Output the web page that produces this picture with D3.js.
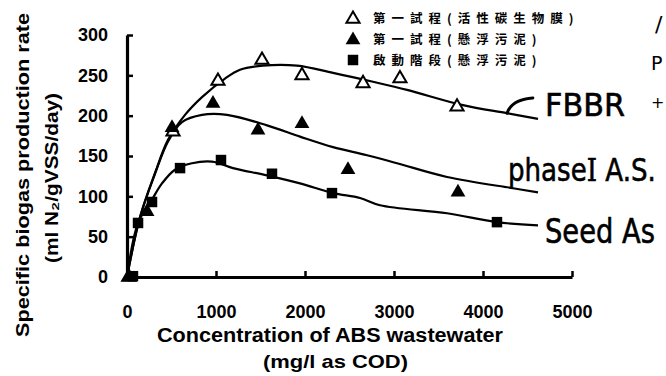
<!DOCTYPE html>
<html><head><meta charset="utf-8">
<script src="https://cdn.jsdelivr.net/npm/d3@7"></script>
<style>
body{margin:0;background:#fff;}
svg{display:block;}
</style></head>
<body>
<svg id="c" width="666" height="376"></svg>
<script>
// ---- data ----
const xTicks = [0, 1000, 2000, 3000, 4000, 5000];
const yTicks = [0, 50, 100, 150, 200, 250, 300];
const legendLabels = ["第一試程(活性碳生物膜)", "第一試程(懸浮污泥)", "啟動階段(懸浮污泥)"];
const seriesNames = ["FBBR", "phaseI A.S.", "Seed As"];

// measured points
const fbbrX = [20, 517, 1022, 1517, 1966, 2652, 3067, 3708];
const fbbrY = [0, 180, 243, 269, 250, 240, 246, 211];
const phase1X = [20, 225, 506, 966, 1472, 1966, 2483, 3719];
const phase1Y = [0, 81, 185, 215, 182, 190, 133, 105];
const seedX = [67, 124, 281, 596, 1056, 1629, 2303, 4157];
const seedY = [1, 67, 93, 135, 145, 128, 104, 68];

// fitted curves
const fbbrCurveX = [0, 146, 315, 461, 652, 843, 1101, 1270, 1528, 1910, 2315, 2764, 3146, 3775, 4270, 4618];
const fbbrCurveY = [0, 74, 129, 170, 201, 223, 246, 257, 262, 262, 253, 242, 232, 213, 203, 196];
const phase1CurveX = [0, 146, 315, 461, 618, 843, 1124, 1573, 1944, 2315, 2697, 3034, 3596, 4337, 4618];
const phase1CurveY = [0, 74, 128, 168, 192, 201, 201, 188, 174, 161, 151, 141, 124, 110, 105];
const seedCurveX = [0, 124, 281, 393, 539, 730, 955, 1191, 1573, 1944, 2315, 2618, 2843, 3596, 4157, 4618];
const seedCurveY = [0, 67, 96, 116, 133, 141, 143, 135, 126, 116, 104, 98, 89, 79, 68, 64];

// ---- drawing ----
const svg = d3.select("#c");
const x = d3.scaleLinear().domain([0, 5000]).range([127, 572]);
const y = d3.scaleLinear().domain([0, 300]).range([277, 35]);
const zip = (a, b) => a.map((v, i) => [v, b[i]]);
const font = "'Liberation Sans', Arial, sans-serif";

// curves
const line = d3.line().x(d => x(d[0])).y(d => y(d[1])).curve(d3.curveCatmullRom.alpha(0.5));
[[fbbrCurveX, fbbrCurveY], [phase1CurveX, phase1CurveY], [seedCurveX, seedCurveY]].forEach(([cx, cy]) => {
  svg.append("path").attr("d", line(zip(cx, cy)))
    .attr("fill", "none").attr("stroke", "#000").attr("stroke-width", 2.2);
});

// axes
const xAxis = d3.axisBottom(x).tickValues(xTicks).tickSizeInner(-6).tickSizeOuter(0).tickPadding(28).tickFormat(d3.format("d"));
const yAxis = d3.axisLeft(y).tickValues(yTicks).tickSizeInner(-6).tickSizeOuter(0).tickPadding(19).tickFormat(d3.format("d"));
const gx = svg.append("g").attr("transform", `translate(0,${y(0)})`).call(xAxis);
const gy = svg.append("g").attr("transform", `translate(${x(0)},0)`).call(yAxis);
[gx, gy].forEach(g => {
  g.select(".domain").attr("stroke-width", 3.2).attr("stroke", "#000");
  g.selectAll(".tick line").attr("stroke-width", 2.5).attr("stroke", "#000");
  g.selectAll(".tick text").attr("font-family", font).attr("font-weight", "bold")
    .attr("font-size", 18).attr("fill", "#000");
});
gy.selectAll(".tick").filter(d => d === 0).select("line").remove();
gx.selectAll(".tick").filter(d => d === 0).select("line").remove();

// axis titles
svg.append("text").attr("x", 157).attr("y", 342)
  .attr("font-family", font).attr("font-weight", "bold").attr("font-size", 20)
  .attr("textLength", 346).attr("lengthAdjust", "spacingAndGlyphs")
  .text("Concentration of ABS wastewater");
svg.append("text").attr("x", 263).attr("y", 368)
  .attr("font-family", font).attr("font-weight", "bold").attr("font-size", 19)
  .attr("textLength", 145).attr("lengthAdjust", "spacingAndGlyphs")
  .text("(mg/l as COD)");
svg.append("text").attr("transform", "translate(29,337) rotate(-90)")
  .attr("font-family", font).attr("font-weight", "bold").attr("font-size", 19)
  .attr("textLength", 324).attr("lengthAdjust", "spacingAndGlyphs")
  .text("Specific biogas production rate");
svg.append("text").attr("transform", "translate(58,263) rotate(-90)")
  .attr("font-family", font).attr("font-weight", "bold").attr("font-size", 18)
  .attr("textLength", 170).attr("lengthAdjust", "spacingAndGlyphs")
  .text("(ml N₂/gVSS/day)");

// markers
const tri = d3.symbol().type(d3.symbolTriangle).size(75);
const triF = d3.symbol().type(d3.symbolTriangle).size(95);
const sq = d3.symbol().type(d3.symbolSquare).size(110);
svg.append("g").selectAll("path").data(zip(fbbrX, fbbrY)).join("path")
  .attr("d", tri).attr("transform", d => `translate(${x(d[0])},${y(d[1])})`)
  .attr("fill", "#fff").attr("stroke", "#000").attr("stroke-width", 2);
svg.append("g").selectAll("path").data(zip(phase1X, phase1Y)).join("path")
  .attr("d", triF).attr("transform", d => `translate(${x(d[0])},${y(d[1])})`).attr("fill", "#000");
svg.append("g").selectAll("path").data(zip(seedX, seedY)).join("path")
  .attr("d", sq).attr("transform", d => `translate(${x(d[0])},${y(d[1])})`).attr("fill", "#000");

// legend
const legY = [18, 39, 60];
const lg = svg.append("g");
lg.append("path").attr("d", tri).attr("transform", `translate(353,${legY[0] + 1})`)
  .attr("fill", "#fff").attr("stroke", "#000").attr("stroke-width", 2);
lg.append("path").attr("d", triF).attr("transform", `translate(353,${legY[1] + 1})`).attr("fill", "#000");
lg.append("path").attr("d", sq).attr("transform", `translate(353,${legY[2]})`).attr("fill", "#000");
lg.selectAll("text").data(legendLabels).join("text")
  .attr("x", 373).attr("y", (d, i) => legY[i] + 5)
  .attr("font-family", "'Noto Sans CJK TC', sans-serif").attr("font-weight", "bold")
  .attr("font-size", 12.5).attr("letter-spacing", 6).text(d => d);

// handwritten annotations (scaled horizontally to the reference widths)
const hand = "'DejaVu Sans', sans-serif";
svg.append("path")
  .attr("d", `M${x(4270)},${y(203)} Q${x(4320)},${y(220)} ${x(4560)},${y(222)}`)
  .attr("fill", "none").attr("stroke", "#000").attr("stroke-width", 3).attr("stroke-linecap", "round");
const ann = [
  {parts: [["FBBR", hand]], x: 545, y: 116, w: 80, s: 32},
  {parts: [["phase", hand], ["I", "'DejaVu Serif', serif"], [" A.S.", hand]], x: 508, y: 181, w: 148, s: 32},
  {parts: [["Seed As", hand]], x: 545, y: 243, w: 110, s: 34}
];
ann.forEach(a => {
  const g = svg.append("g");
  const t = g.append("text").attr("x", 0).attr("y", 0).attr("font-family", hand)
    .attr("font-size", a.s).attr("stroke", "#000").attr("stroke-width", 0.6);
  a.parts.forEach(p => t.append("tspan").attr("font-family", p[1]).text(p[0]));
  const nat = t.node().getComputedTextLength();
  g.attr("transform", `translate(${a.x},${a.y}) scale(${a.w / nat},1)`);
});
// cut-off letters at the right edge
svg.append("text").attr("x", 655).attr("y", 32).attr("font-family", hand).attr("font-size", 22).text("/");
svg.append("text").attr("x", 651).attr("y", 70).attr("font-family", hand).attr("font-size", 19).text("P");
svg.append("text").attr("x", 651).attr("y", 108).attr("font-family", hand).attr("font-size", 16).text("+");
</script>
</body></html>
